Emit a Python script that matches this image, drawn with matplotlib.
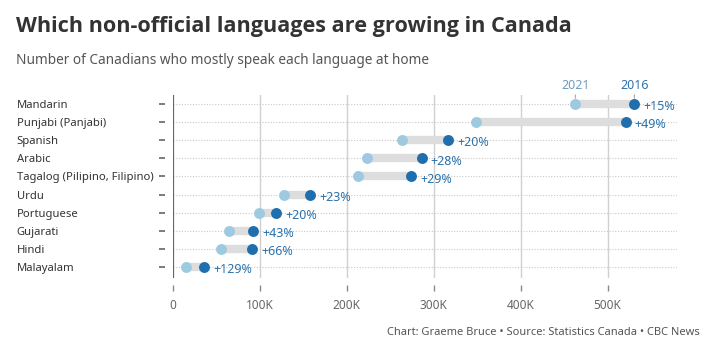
import matplotlib.pyplot as plt
import matplotlib.transforms as mtransforms
from matplotlib.ticker import FuncFormatter

plt.rcParams['font.family'] = ['Noto Sans', 'DejaVu Sans']

languages = ['Mandarin', 'Punjabi (Panjabi)', 'Spanish', 'Arabic',
             'Tagalog (Pilipino, Filipino)', 'Urdu', 'Portuguese',
             'Gujarati', 'Hindi', 'Malayalam']
y2021 = [463000, 349000, 264000, 223000, 213000, 128000, 99000, 64500, 55000, 15500]
y2016 = [531000, 521000, 317000, 286000, 274000, 158000, 119000, 92000, 91000, 35500]
growth = ['+15%', '+49%', '+20%', '+28%', '+29%', '+23%', '+20%', '+43%', '+66%', '+129%']

light = '#9ecae1'
dark = '#1f6fae'
txt_blue = '#2b72ad'

fig = plt.figure(figsize=(7.01, 3.53), dpi=100)
ax = fig.add_axes([0.2468, 0.2125, 0.719, 0.519])

rows = list(range(len(languages)))

ax.set_xlim(0, 580000)
ax.set_ylim(9.6, -0.5)

# grid
for v in [100000, 200000, 300000, 400000, 500000]:
    ax.axvline(v, color='#d0d0d0', lw=1, zorder=0)
for r in rows:
    ax.axhline(r, color='#c8c8c8', lw=0.8, ls=(0, (1, 1.5)), zorder=0)
ax.axvline(0, color='#666666', lw=1.6, zorder=1)

# connectors and dots
ax.hlines(rows, y2021, y2016, color='#dddddd', lw=6, zorder=2)
ax.scatter(y2021, rows, s=62, color=light, zorder=3, linewidths=0)
ax.scatter(y2016, rows, s=62, color=dark, zorder=4, linewidths=0)

for r, x, g in zip(rows, y2016, growth):
    ax.annotate(g, (x, r), xytext=(6.5, -2), textcoords='offset points',
                color=txt_blue, fontsize=9, va='center', ha='left')

# year labels on the first row
ax.annotate('2021', (y2021[0], 0), xytext=(0, 8.5), textcoords='offset points',
            ha='center', va='bottom', color='#6f9cc0', fontsize=9,
            arrowprops=dict(arrowstyle='-', color='#aaaaaa', lw=0.8, shrinkA=0, shrinkB=4))
ax.annotate('2016', (y2016[0], 0), xytext=(0, 8.5), textcoords='offset points',
            ha='center', va='bottom', color=txt_blue, fontsize=9,
            arrowprops=dict(arrowstyle='-', color='#aaaaaa', lw=0.8, shrinkA=0, shrinkB=4))

# category labels, left aligned at the figure margin
ax.set_yticks(rows)
ax.set_yticklabels([])
trans = mtransforms.blended_transform_factory(fig.transFigure, ax.transData)
for r, name in zip(rows, languages):
    ax.text(0.024, r, name, transform=trans, ha='left', va='center_baseline',
            fontsize=8.1, color='#333333', clip_on=False)

ax.set_xticks([0, 100000, 200000, 300000, 400000, 500000])
ax.xaxis.set_major_formatter(FuncFormatter(lambda v, p: '0' if v == 0 else f'{int(v/1000)}K'))

for s in ax.spines.values():
    s.set_visible(False)
ax.spines['left'].set_position(('outward', 6))
ax.spines['bottom'].set_position(('outward', 5))
ax.tick_params(axis='y', length=4, width=1.2, color='#666666')
ax.tick_params(axis='x', length=4, width=1, color='#888888', pad=6,
               labelsize=8.5, labelcolor='#666666')

fig.text(0.023, 0.91, 'Which non-official languages are growing in Canada',
         fontsize=15.6, fontweight='bold', color='#333333', family='Open Sans')
fig.text(0.023, 0.82, 'Number of Canadians who mostly speak each language at home',
         fontsize=9.8, color='#555555')
fig.text(0.998, 0.05, 'Chart: Graeme Bruce \u2022 Source: Statistics Canada \u2022 CBC News',
         fontsize=8, color='#555555', ha='right')

fig.savefig('out.png', dpi=100)
